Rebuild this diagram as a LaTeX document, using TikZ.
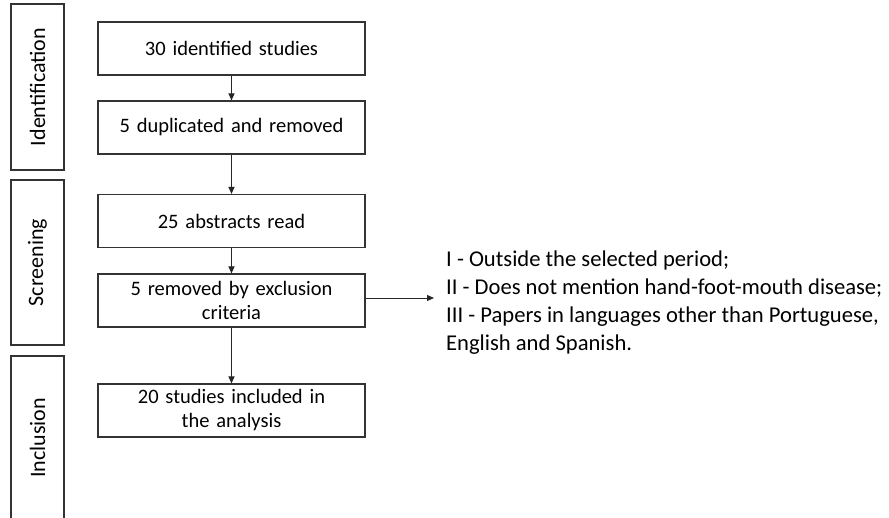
\documentclass[tikz,border=0pt]{standalone}
\usepackage{fontspec}
\setmainfont{Carlito}
\usetikzlibrary{arrows.meta}
\begin{document}
\begin{tikzpicture}[x=1pt,y=-1pt,
  flowbox/.style={draw=black!80,line width=1.1pt,minimum width=267pt,minimum height=53pt,inner sep=2pt,
    align=center,text width=250pt,font=\fontsize{20.5}{24}\selectfont},
  stagebox/.style={draw=black!80,line width=1.1pt,minimum width=53pt,inner sep=0pt,
    font=\fontsize{22}{26}\selectfont},
  flowarrow/.style={draw=black!85,line width=1pt,-{Triangle[length=7pt,width=6pt]}}]
\useasboundingbox (0,0) rectangle (889,517);
\fill[white] (0,0) rectangle (889,517);
% stage boxes
\node[stagebox,minimum height=166pt] (sid) at (37.5,87) {\rotatebox{90}{Identification}};
\node[stagebox,minimum height=165pt] (sscr) at (37.5,262.5) {\rotatebox{90}{Screening}};
\node[stagebox,minimum height=164pt] (sinc) at (37.5,438) {\rotatebox{90}{Inclusion}};
\draw[draw=black!80,line width=1.1pt] (sinc.south west) -- ++(0,10) (sinc.south east) -- ++(0,10);
% flow boxes
\node[flowbox] (b1) at (231.5,48.5) {30 identified studies};
\node[flowbox] (b2) at (231.5,127.5) {5 duplicated and removed};
\node[flowbox] (b3) at (231.5,221) {25 abstracts read};
\node[flowbox] (b4) at (231.5,300.5) {5 removed by exclusion\\criteria};
\node[flowbox] (b5) at (231.5,410.5) {20 studies included in\\the analysis};
% criteria text
\node[anchor=north west,align=left,inner sep=0pt,font=\fontsize{22.6}{28}\selectfont] (crit) at (446,251)
 {I - Outside the selected period;\\
  II - Does not mention hand-foot-mouth disease;\\
  III - Papers in languages other than Portuguese,\\
  English and Spanish.};
\coordinate (ce) at (434,298);
% arrows
\draw[flowarrow] (b1) -- (b2);
\draw[flowarrow] (b2) -- (b3);
\draw[flowarrow] (b3) -- (b4);
\draw[flowarrow] (b4) -- (b5);
\draw[flowarrow] (b4.east |- ce) -- (ce);
\end{tikzpicture}
\end{document}
